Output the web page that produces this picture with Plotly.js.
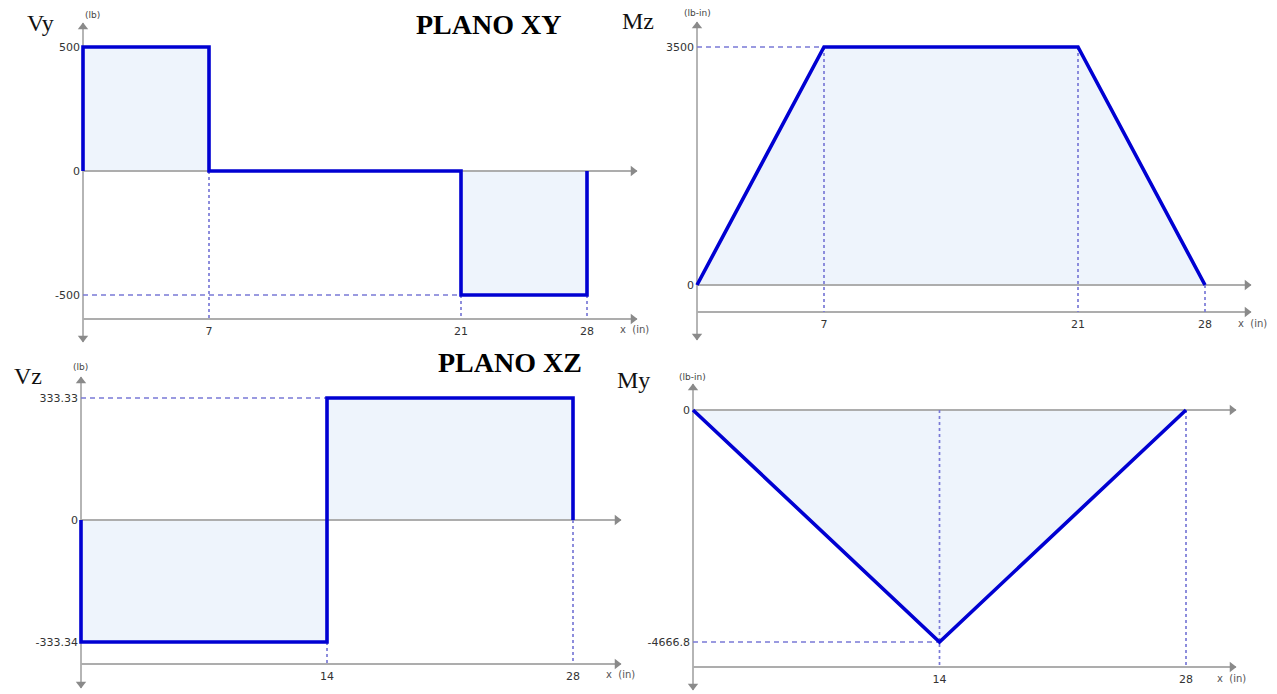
<!DOCTYPE html>
<html><head><meta charset="utf-8">
<script src="https://cdn.plot.ly/plotly-3.0.1.min.js"></script>
<style>html,body{margin:0;padding:0;background:#fff}#chart{width:1277px;height:694px}</style>
</head><body><div id="chart"></div>
<script>
// ---------------- data ----------------
const vyStations = [0, 0, 7, 21, 28, 28];          // x (in), step diagram
const vyValues   = [0, 500, 0, -500, -500, 0];     // Vy (lb)
const mzStations = [0, 7, 21, 28];
const mzValues   = [0, 3500, 3500, 0];             // Mz (lb-in)
const vzStations = [0, 0, 14, 28, 28];
const vzValues   = [0, -333.34, 333.33, 333.33, 0];// Vz (lb)
const myStations = [0, 14, 28];
const myValues   = [0, -4666.8, 0];                // My (lb-in)

const vyYTicks = [500, 0, -500];      const vyYTickText = ['500', '0', '-500'];
const mzYTicks = [3500, 0];           const mzYTickText = ['3500', '0'];
const vzYTicks = [333.33, 0, -333.34];const vzYTickText = ['333.33', '0', '-333.34'];
const myYTicks = [0, -4666.8];        const myYTickText = ['0', '-4666.8'];
const vyXTicks = [7, 21, 28];
const mzXTicks = [7, 21, 28];
const vzXTicks = [14, 28];
const myXTicks = [14, 28];

// guide lines: horizontal dashed [station, value], vertical dotted [station, from value]
const vyGuideH = [[21, -500]];
const vyGuideV = [[7, 0], [21, -500], [28, -500]];
const mzGuideH = [[7, 3500]];
const mzGuideV = [[7, 3500], [21, 3500], [28, 0]];
const vzGuideH = [[14, 333.33]];
const vzGuideV = [[14, -333.34], [28, 0]];
const myGuideH = [[14, -4666.8]];
const myGuideV = [[14, 0], [28, 0]];

// ---------------- layout geometry (pixels) ----------------
const W = 1277, H = 694;
const panels = [
  {id:'', name:'Vy', unit:'(lb)', xs:vyStations, ys:vyValues, shape:'hv', yt:vyYTicks, ytt:vyYTickText, xt:vyXTicks, gh:vyGuideH, gv:vyGuideV,
   ox:83, sx:18, oy:171, sy:124/500, dx:[60,642], dy:[8,352], yTop:23, yBot:342, xEnd:637, bottom:319,
   lab:[40,23], unitPos:[92,15], xin:[634,329]},
  {id:'2', name:'Mz', unit:'(lb-in)', xs:mzStations, ys:mzValues, shape:'linear', yt:mzYTicks, ytt:mzYTickText, xt:mzXTicks, gh:mzGuideH, gv:mzGuideV,
   ox:697, sx:508/28, oy:285, sy:238/3500, dx:[652,1272], dy:[8,352], yTop:22, yBot:340, xEnd:1251, bottom:312,
   lab:[638,21], unitPos:[697,13], xin:[1252,323]},
  {id:'3', name:'Vz', unit:'(lb)', xs:vzStations, ys:vzValues, shape:'hv', yt:vzYTicks, ytt:vzYTickText, xt:vzXTicks, gh:vzGuideH, gv:vzGuideV,
   ox:81, sx:492/28, oy:520, sy:122/333.33, dx:[60,642], dy:[362,693], yTop:377, yBot:688, xEnd:621, bottom:664,
   lab:[28,376], unitPos:[80,367], xin:[620,674]},
  {id:'4', name:'My', unit:'(lb-in)', xs:myStations, ys:myValues, shape:'linear', yt:myYTicks, ytt:myYTickText, xt:myXTicks, gh:myGuideH, gv:myGuideV,
   ox:693, sx:493/28, oy:410, sy:232/4666.8, dx:[652,1272], dy:[362,693], yTop:384, yBot:690, xEnd:1236, bottom:667,
   lab:[633,380], unitPos:[692,377], xin:[1231,678]}
];

const AXIS = '#adadad', ARROW = '#8a8a8a', BLUE = '#0000d2', FILL = 'rgba(238,244,252,1)', GUIDE = '#7a7ad6';
const tickFont = {family:'DejaVu Sans, Verdana, sans-serif', size:11, color:'#333'};

const traces = [];
const layout = {width:W, height:H, margin:{l:0,r:0,t:0,b:0}, paper_bgcolor:'#fff', plot_bgcolor:'rgba(0,0,0,0)',
  showlegend:false, annotations:[], hovermode:false};

panels.forEach(p => {
  const toX = px => (px - p.ox) / p.sx;
  const toY = py => (p.oy - py) / p.sy;
  const xa = 'x' + p.id, ya = 'y' + p.id;
  const yBottom = toY(p.bottom);
  layout['xaxis' + p.id] = {domain:[p.dx[0]/W, p.dx[1]/W], range:[toX(p.dx[0]), toX(p.dx[1])],
    anchor:'free', position:1 - p.bottom/H, showgrid:false, zeroline:false, showline:false, ticks:'',
    tickmode:'array', tickvals:p.xt, ticktext:p.xt.map(String), tickfont:tickFont, ticklabelstandoff:4, fixedrange:true};
  layout['yaxis' + p.id] = {domain:[1 - p.dy[1]/H, 1 - p.dy[0]/H], range:[toY(p.dy[1]), toY(p.dy[0])],
    anchor:'free', position:p.ox/W, showgrid:false, zeroline:false, showline:false, ticks:'',
    tickmode:'array', tickvals:p.yt, ticktext:p.ytt, tickfont:tickFont, ticklabelstandoff:3, fixedrange:true};

  const base = {xaxis:xa, yaxis:ya, hoverinfo:'skip', type:'scatter'};
  // filled area under the diagram
  traces.push(Object.assign({}, base, {mode:'lines', x:p.xs, y:p.ys, fill:'tozeroy', fillcolor:FILL,
    line:{color:'rgba(0,0,0,0)', width:0, shape:p.shape}}));
  // axes lines
  traces.push(Object.assign({}, base, {mode:'lines', x:[0,0], y:[toY(p.yTop), toY(p.yBot)], line:{color:AXIS, width:1.8}}));
  traces.push(Object.assign({}, base, {mode:'lines', x:[0, toX(p.xEnd)], y:[0,0], line:{color:AXIS, width:1.8}}));
  traces.push(Object.assign({}, base, {mode:'lines', x:[0, toX(p.xEnd)], y:[yBottom,yBottom], line:{color:AXIS, width:1.8}}));
  // arrowheads
  traces.push(Object.assign({}, base, {mode:'markers', cliponaxis:false,
    x:[0, 0, toX(p.xEnd-4), toX(p.xEnd-4)], y:[toY(p.yTop+4), toY(p.yBot-4), 0, yBottom],
    marker:{symbol:['triangle-up','triangle-down','triangle-right','triangle-right'], size:9, color:ARROW, line:{width:0}}}));
  // guides
  p.gh.forEach(g => traces.push(Object.assign({}, base, {mode:'lines', x:[0, g[0]], y:[g[1], g[1]],
    line:{color:GUIDE, width:1.5, dash:'5px,4px'}})));
  p.gv.forEach(g => traces.push(Object.assign({}, base, {mode:'lines', x:[g[0], g[0]], y:[g[1], yBottom],
    line:{color:GUIDE, width:1.7, dash:'3px,3px'}})));
  // diagram line
  traces.push(Object.assign({}, base, {mode:'lines', x:p.xs, y:p.ys,
    line:{color:BLUE, width:3.6, shape:p.shape}}));

  // labels
  layout.annotations.push({xref:'paper', yref:'paper', x:p.lab[0]/W, y:1 - p.lab[1]/H, text:p.name, showarrow:false,
    xanchor:'center', yanchor:'middle', font:{family:'Liberation Serif, Times New Roman, serif', size:24, color:'#111'}});
  layout.annotations.push({xref:'paper', yref:'paper', x:p.unitPos[0]/W, y:1 - p.unitPos[1]/H, text:p.unit, showarrow:false,
    xanchor:'center', yanchor:'middle', font:{family:'DejaVu Sans, sans-serif', size:9, color:'#444'}});
  layout.annotations.push({xref:'paper', yref:'paper', x:p.xin[0]/W, y:1 - p.xin[1]/H, text:'x  (in)', showarrow:false,
    xanchor:'center', yanchor:'middle', font:{family:'DejaVu Sans, sans-serif', size:10, color:'#555'}});
});

layout.annotations.push({xref:'paper', yref:'paper', x:488/W, y:1 - 25/H, text:'<b>PLANO XY</b>', showarrow:false,
  xanchor:'center', yanchor:'middle', font:{family:'Liberation Serif, Times New Roman, serif', size:28, color:'#000'}});
layout.annotations.push({xref:'paper', yref:'paper', x:510/W, y:1 - 362/H, text:'<b>PLANO XZ</b>', showarrow:false,
  xanchor:'center', yanchor:'middle', font:{family:'Liberation Serif, Times New Roman, serif', size:28, color:'#000'}});

Plotly.newPlot('chart', traces, layout, {displayModeBar:false, staticPlot:true});
</script></body></html>
